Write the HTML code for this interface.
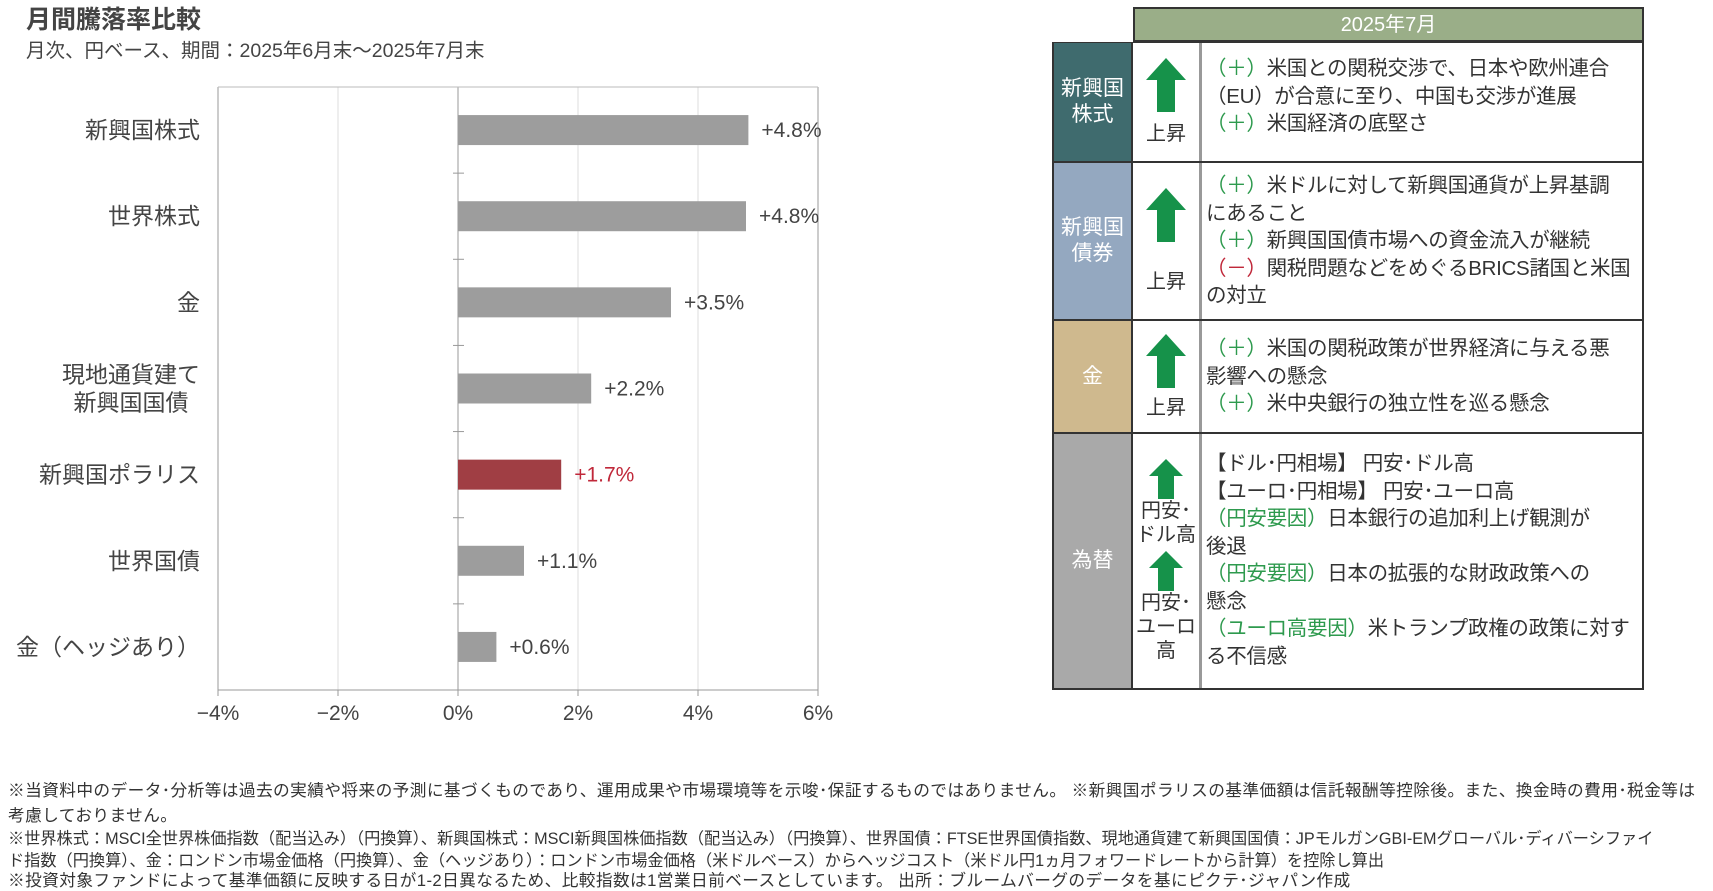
<!DOCTYPE html>
<html><head><meta charset="utf-8">
<style>
*{box-sizing:border-box;margin:0;padding:0}
body{width:1713px;height:890px;background:#fff;position:relative;overflow:hidden;font-family:"Liberation Sans","Noto Sans CJK JP",sans-serif;color:#333}
#title{position:absolute;left:26px;top:0px;font-size:25px;font-weight:bold;color:#444}
#sub{position:absolute;left:26px;top:34px;font-size:19.5px;color:#444}
#chart{position:absolute;left:0;top:0}
#tbl{position:absolute;left:1052px;top:7px;width:592px}
.hdr{position:absolute;left:81px;top:0;width:511px;height:35px;background:#9aae88;color:#fff;font-size:20px;text-align:center;line-height:33px;border:2px solid #333}
.row{position:absolute;left:0;width:592px;border:2px solid #333;border-top-width:1.5px}
.c1{position:absolute;left:0;top:0;bottom:0;width:79px;color:#fff;font-size:21px;display:flex;align-items:center;justify-content:center;text-align:center;line-height:26px;border-right:2px solid #333}
.c2{position:absolute;left:79px;top:0;bottom:0;width:69px;border-right:3px solid #999;display:flex;flex-direction:column;align-items:center;justify-content:center;font-size:20px;line-height:24px;text-align:center}
.c3{position:absolute;left:152px;top:0;right:2px;bottom:0;display:flex;flex-direction:column;justify-content:center;font-size:20.5px;line-height:27.5px;color:#333;white-space:nowrap;letter-spacing:-0.3px;overflow:hidden}
.g{color:#2e9a4e}.r{color:#c0283a}
.foot{position:absolute;left:8px;font-size:16.7px;white-space:nowrap;color:#333;letter-spacing:0.4px}
</style></head><body>
<div id="title">月間騰落率比較</div>
<div id="sub">月次、円ベース、期間：2025年6月末～2025年7月末</div>
<svg id="chart" width="900" height="760"></svg>

<div id="tbl">
 <div class="hdr">2025年7月</div>
 <div class="row" style="top:35px;height:121px">
  <div class="c1" style="background:#3f6b6e">新興国<br>株式</div>
  <div class="c2"><svg width="40" height="54"><polygon points="20,0 40,22 29,22 29,54 11,54 11,22 0,22" fill="#16924a"/></svg><div style="margin-top:10px">上昇</div></div>
  <div class="c3" style="justify-content:flex-start;padding-top:12px"><div><span class="g">（＋）</span>米国との関税交渉で、日本や欧州連合</div><div>（EU）が合意に至り、中国も交渉が進展</div><div><span class="g">（＋）</span>米国経済の底堅さ</div></div>
 </div>
 <div class="row" style="top:155px;height:159px">
  <div class="c1" style="background:#94a8c0">新興国<br>債券</div>
  <div class="c2"><svg width="40" height="54"><polygon points="20,0 40,22 29,22 29,54 11,54 11,22 0,22" fill="#16924a"/></svg><div style="margin-top:28px">上昇</div></div>
  <div class="c3"><div><span class="g">（＋）</span>米ドルに対して新興国通貨が上昇基調</div><div>にあること</div><div><span class="g">（＋）</span>新興国国債市場への資金流入が継続</div><div><span class="r">（－）</span>関税問題などをめぐるBRICS諸国と米国</div><div>の対立</div></div>
 </div>
 <div class="row" style="top:313px;height:114px">
  <div class="c1" style="background:#cfb98e">金</div>
  <div class="c2"><svg width="40" height="54"><polygon points="20,0 40,22 29,22 29,54 11,54 11,22 0,22" fill="#16924a"/></svg><div style="margin-top:8px">上昇</div></div>
  <div class="c3"><div><span class="g">（＋）</span>米国の関税政策が世界経済に与える悪</div><div>影響への懸念</div><div><span class="g">（＋）</span>米中央銀行の独立性を巡る懸念</div></div>
 </div>
 <div class="row" style="top:426px;height:257px">
  <div class="c1" style="background:#a9a9a9">為替</div>
  <div class="c2"><svg width="34" height="40"><polygon points="17,0 34,17 25,17 25,40 9,40 9,17 0,17" fill="#16924a"/></svg><div>円安･<br>ドル高</div><svg width="34" height="40" style="margin-top:4px"><polygon points="17,0 34,17 25,17 25,40 9,40 9,17 0,17" fill="#16924a"/></svg><div>円安･<br>ユーロ<br>高</div></div>
  <div class="c3" style="justify-content:flex-start;padding-top:16px"><div>【ドル･円相場】 円安･ドル高</div><div>【ユーロ･円相場】 円安･ユーロ高</div><div><span class="g">（円安要因）</span>日本銀行の追加利上げ観測が</div><div>後退</div><div><span class="g">（円安要因）</span>日本の拡張的な財政政策への</div><div>懸念</div><div><span class="g">（ユーロ高要因）</span>米トランプ政権の政策に対す</div><div>る不信感</div></div>
 </div>
</div>

<div class="foot" style="top:777px">※当資料中のデータ･分析等は過去の実績や将来の予測に基づくものであり、運用成果や市場環境等を示唆･保証するものではありません。 ※新興国ポラリスの基準価額は信託報酬等控除後。また、換金時の費用･税金等は</div>
<div class="foot" style="top:802px">考慮しておりません。</div>
<div class="foot" style="top:825px;font-size:16.2px;letter-spacing:0">※世界株式：MSCI全世界株価指数（配当込み）（円換算）、新興国株式：MSCI新興国株価指数（配当込み）（円換算）、世界国債：FTSE世界国債指数、現地通貨建て新興国国債：JPモルガンGBI-EMグローバル･ディバーシファイ</div>
<div class="foot" style="top:847px;font-size:16.2px;letter-spacing:0">ド指数（円換算）、金：ロンドン市場金価格（円換算）、金（ヘッジあり）：ロンドン市場金価格（米ドルベース）からヘッジコスト（米ドル円1ヵ月フォワードレートから計算）を控除し算出</div>
<div class="foot" style="top:867px">※投資対象ファンドによって基準価額に反映する日が1-2日異なるため、比較指数は1営業日前ベースとしています。 出所：ブルームバーグのデータを基にピクテ･ジャパン作成</div>

<script>
const categories = [["新興国株式"],["世界株式"],["金"],["現地通貨建て","新興国国債"],["新興国ポラリス"],["世界国債"],["金（ヘッジあり）"]];
const values = [4.84, 4.80, 3.55, 2.22, 1.72, 1.10, 0.64];
const valueLabels = ["+4.8%","+4.8%","+3.5%","+2.2%","+1.7%","+1.1%","+0.6%"];
const highlight = [false,false,false,false,true,false,false];
const ticks = [-4,-2,0,2,4,6];
const tickLabels = ["−4%","−2%","0%","2%","4%","6%"];

const svg = document.getElementById('chart');
const NS = 'http://www.w3.org/2000/svg';
const L=218, R=818, T=87, B=690;
const xMin=-4, xMax=6;
const x = v => L + (v - xMin) / (xMax - xMin) * (R - L);
const band = (B - T) / categories.length;
const yc = i => T + band * (i + 0.5);
function mk(tag, attrs){const e=document.createElementNS(NS,tag);for(const k in attrs)e.setAttribute(k,attrs[k]);svg.appendChild(e);return e;}

ticks.forEach((t,i)=>{
  const g = mk('line',{x1:x(t),x2:x(t),y1:T,y2:B,stroke:(t===0||i===0||i===ticks.length-1)?'#999':'#ddd','stroke-width':1});
  
  
  const tk = mk('line',{x1:x(t),x2:x(t),y1:B,y2:B+6,stroke:'#999'});
  
  
  const tx = mk('text',{x:x(t),y:B+30,'text-anchor':'middle','font-size':21,fill:'#444'});
  tx.textContent = tickLabels[i];
  
  
});
const topBorder = mk('line',{x1:L,x2:R,y1:T,y2:T,stroke:'#bbb'});


const bot = mk('line',{x1:L,x2:R,y1:B,y2:B,stroke:'#999'});


for(let i=1;i<categories.length;i++){
  const yt=T+band*i;
  const t=mk('line',{x1:x(0)-5,x2:x(0)+6,y1:yt,y2:yt,stroke:'#999'});
  
  
}
const bh=30;
categories.forEach((c,i)=>{
  const v=values[i];
  const r=mk('rect',{x:Math.min(x(0),x(v)),y:yc(i)-bh/2,width:Math.abs(x(v)-x(0)),height:bh,fill:highlight[i]?'#a03e44':'#9d9d9d'});
  
  
  const vl=mk('text',{x:x(v)+13,y:yc(i)+7,'font-size':21,fill:highlight[i]?'#c0283a':'#444'});
  vl.textContent=valueLabels[i];
  
  
  c.forEach((line,j)=>{
    const ty=yc(i)+8+(j-(c.length-1)/2)*28;
    const cl=mk('text',{x:200,y:ty,'text-anchor':(c.length>1&&j===1)?'middle':'end','font-size':23,fill:'#444'});
    if(c.length>1&&j===1)cl.setAttribute('x',131);
    cl.textContent=line;
    
    
  });
});
</script>
</body></html>
